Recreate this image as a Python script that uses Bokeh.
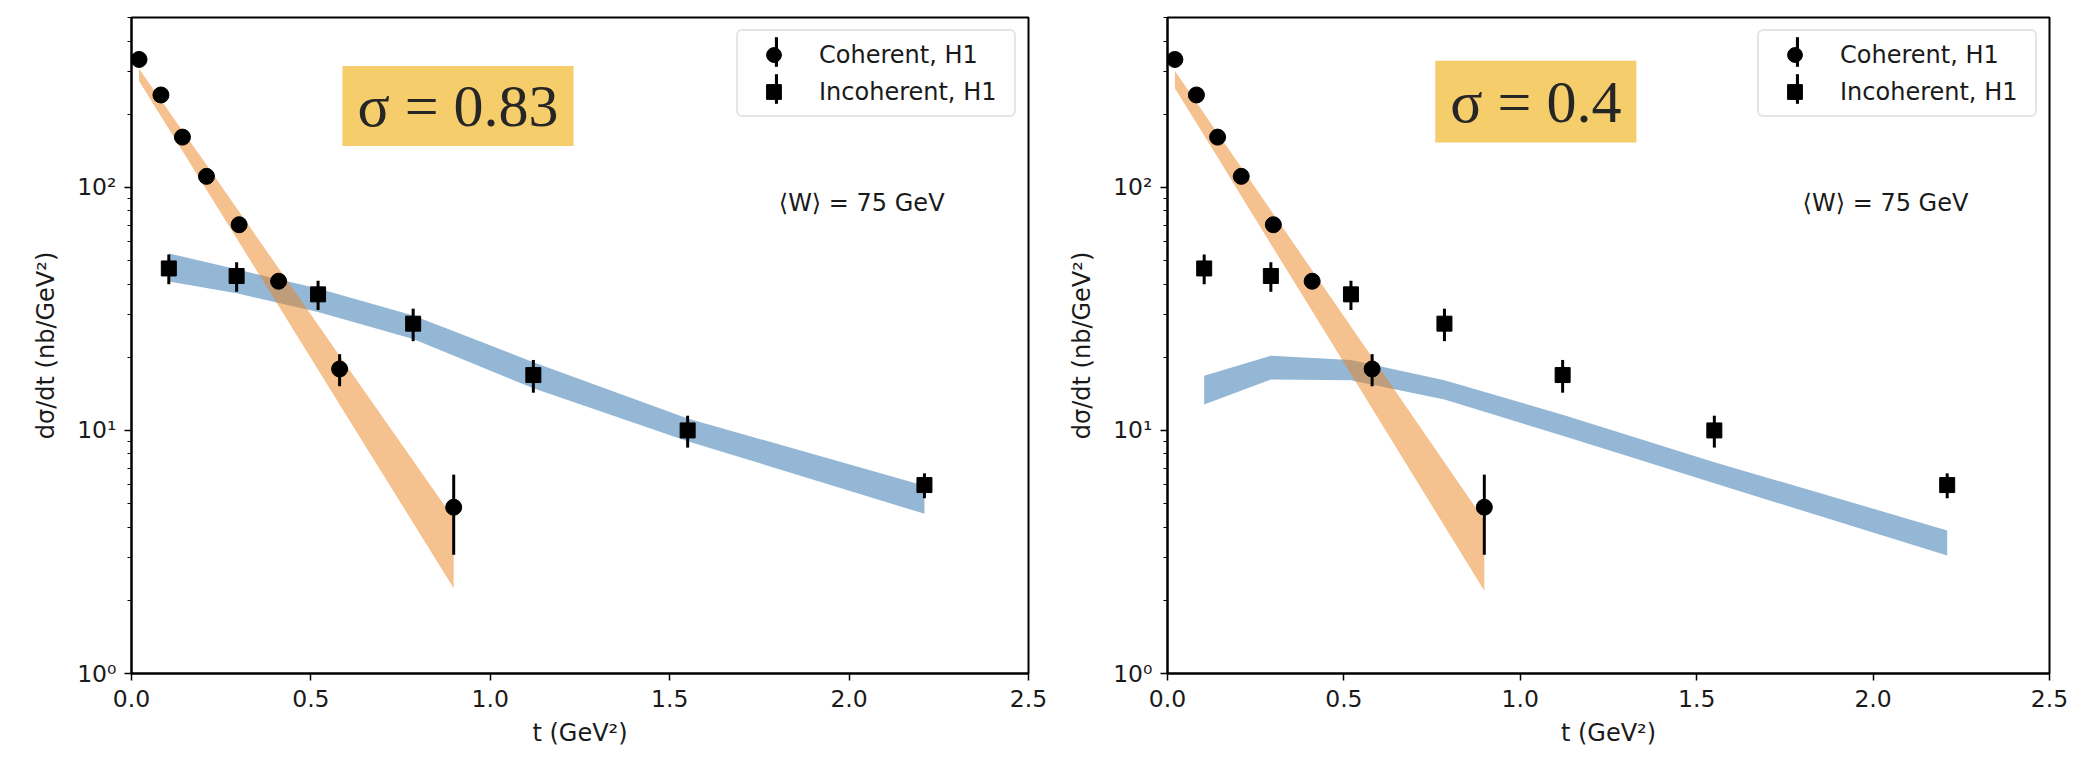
import math
from bokeh.plotting import figure
from bokeh.layouts import row
from bokeh.models import (LogTicker, FixedTicker, NumeralTickFormatter, CustomJSTickFormatter,
                          Legend, LegendItem, BoxAnnotation, Label, Range1d, ColumnDataSource)
from bokeh.embed import file_html
from bokeh.resources import INLINE

# ---------------- data ----------------
coh_t = [0.021, 0.082, 0.142, 0.209, 0.300, 0.410, 0.580, 0.898]
coh_y = [336, 240, 161, 111, 70.2, 41.1, 17.9, 4.83]
coh_err = [8, 6, 4, 3, 2, 1.5, 2.7, 1.75]

inc_t = [0.104, 0.293, 0.520, 0.785, 1.120, 1.550, 2.210]
inc_y = [46.4, 43.2, 36.3, 27.5, 16.9, 10.0, 5.96]
inc_err = [6.5, 6.0, 5.0, 4.2, 2.6, 1.5, 0.7]

# model bands, sigma = 0.83
coh_hi_083 = [308, 229, 171, 124, 79.4, 46.5, 20.3, 4.34]
coh_lo_083 = [274, 196, 141, 97.8, 59.4, 32.5, 12.8, 2.24]
inc_hi_083 = [53.5, 46.0, 38.4, 29.7, 19.1, 11.2, 5.92]
inc_lo_083 = [41.0, 36.7, 30.7, 23.8, 14.9, 9.03, 4.54]

# model bands, sigma = 0.4
coh_hi_04 = [301, 224, 167, 121, 77.8, 45.6, 20.0, 4.27]
coh_lo_04 = [256, 184, 133, 92.2, 56.2, 31.0, 12.3, 2.19]
inc_hi_04 = [16.8, 20.3, 19.5, 16.1, 11.6, 7.4, 3.88]
inc_lo_04 = [12.8, 16.2, 16.1, 13.4, 9.5, 6.06, 3.06]

x_ticks = [0.0, 0.5, 1.0, 1.5, 2.0, 2.5]
sigma_labels = ["σ = 0.83", "σ = 0.4"]
w_label = "⟨W⟩ = 75 GeV"
legend_labels = ["Coherent, H1", "Incoherent, H1"]

BLUE = "#296FAD"
ORANGE = "#EB831D"
SANS = "DejaVu Sans"


def panel(width, borders, sigma_text, coh_hi, coh_lo, inc_hi, inc_lo, box, w_pos):
    bl, br, bt, bb = borders
    p = figure(width=width, height=759, x_range=Range1d(0, 2.5), y_range=Range1d(1, 500),
               y_axis_type="log", output_backend="svg", toolbar_location=None,
               min_border_left=bl, min_border_right=br, min_border_top=bt, min_border_bottom=bb,
               background_fill_color="white", border_fill_color="white")
    p.grid.visible = False
    p.outline_line_color = "black"
    p.outline_line_width = 2
    p.outline_line_alpha = 1

    for ax in (p.xaxis, p.yaxis):
        ax.axis_line_color = "black"
        ax.axis_line_width = 2
        ax.major_tick_line_color = "black"
        ax.major_tick_line_width = 1.5
        ax.major_tick_out = 7
        ax.major_tick_in = 0
        ax.major_label_text_font = SANS
        ax.major_label_text_font_size = "23.5px"
        ax.major_label_text_color = "#1a1a1a"
        ax.axis_label_text_font = SANS
        ax.axis_label_text_font_size = "24px"
        ax.axis_label_text_font_style = "normal"
        ax.axis_label_text_color = "#1a1a1a"

    p.xaxis.ticker = FixedTicker(ticks=x_ticks)
    p.xaxis.formatter = NumeralTickFormatter(format="0.0")
    p.xaxis.minor_tick_line_color = None
    p.xaxis.major_label_standoff = 9
    p.xaxis.axis_label_standoff = 9
    p.xaxis.axis_label = "t (GeV²)"

    p.yaxis.ticker = LogTicker(mantissas=[1], num_minor_ticks=10)
    p.yaxis.formatter = CustomJSTickFormatter(code="""
        const sup = {"0": "\u2070", "1": "\u00b9", "2": "\u00b2", "3": "\u00b3"};
        const e = Math.round(Math.log10(tick));
        return "10" + sup[String(e)];
    """)
    p.yaxis.minor_tick_line_color = "black"
    p.yaxis.minor_tick_line_width = 1.2
    p.yaxis.minor_tick_out = 4
    p.yaxis.minor_tick_in = 0
    p.yaxis.major_label_standoff = 8
    p.yaxis.axis_label_standoff = 14
    p.yaxis.axis_label = "dσ/dt (nb/GeV²)"

    # bands
    inc_src = ColumnDataSource(dict(t=inc_t, hi=inc_hi, lo=inc_lo))
    coh_src = ColumnDataSource(dict(t=coh_t, hi=coh_hi, lo=coh_lo))
    p.varea(x="t", y1="lo", y2="hi", source=inc_src, fill_color=BLUE, fill_alpha=0.5)
    p.varea(x="t", y1="lo", y2="hi", source=coh_src, fill_color=ORANGE, fill_alpha=0.5)

    # data with error bars
    cd = ColumnDataSource(dict(t=coh_t, y=coh_y,
                               lo=[y - e for y, e in zip(coh_y, coh_err)],
                               hi=[y + e for y, e in zip(coh_y, coh_err)]))
    idt = ColumnDataSource(dict(t=inc_t, y=inc_y,
                                lo=[y - e for y, e in zip(inc_y, inc_err)],
                                hi=[y + e for y, e in zip(inc_y, inc_err)]))
    p.segment(x0="t", y0="lo", x1="t", y1="hi", source=cd, line_color="black", line_width=3)
    p.segment(x0="t", y0="lo", x1="t", y1="hi", source=idt, line_color="black", line_width=3)
    circ = p.scatter(x="t", y="y", source=cd, marker="circle", size=16,
                     fill_color="black", line_color="black")
    sq = p.scatter(x="t", y="y", source=idt, marker="square", size=15,
                   fill_color="black", line_color="black")

    common = dict(location="top_right", spacing=0, glyph_height=37, label_height=37,
                  label_text_font=SANS, label_text_font_size="24px",
                  label_text_color="#1a1a1a")

    # legend: markers + labels
    legend = Legend(items=[LegendItem(label=legend_labels[0], renderers=[circ]),
                           LegendItem(label=legend_labels[1], renderers=[sq])],
                    margin=12, padding=5, glyph_width=61, label_standoff=15, label_width=190,
                    border_line_color="#cccccc", border_line_width=2, border_radius=6,
                    background_fill_alpha=0.8, **common)
    p.add_layout(legend)

    # legend overlay: vertical error-bar strokes through the legend markers
    # (hidden renderers reusing the data; only their legend glyph is drawn)
    bar1 = p.vbar(x="t", top="hi", bottom="lo", source=cd, width=0.001,
                  fill_color="black", line_color=None, visible=False)
    bar2 = p.vbar(x="t", top="hi", bottom="lo", source=idt, width=0.001,
                  fill_color="black", line_color=None, visible=False)
    bars = Legend(items=[LegendItem(label=" ", renderers=[bar1]),
                         LegendItem(label=" ", renderers=[bar2])],
                  margin=16, padding=10, glyph_width=4, label_standoff=15, label_width=219,
                  border_line_color=None, background_fill_alpha=0, **common)
    p.add_layout(bars)

    # annotations
    left, right, bottom, top = box
    p.add_layout(BoxAnnotation(left=left, right=right, bottom=bottom, top=top,
                               fill_color="#F5CD6B", fill_alpha=1, line_color=None))
    cx = (left + right) / 2
    cy = math.sqrt(bottom * top)
    p.add_layout(Label(x=cx, y=cy, text=sigma_text, text_font="Liberation Serif",
                       text_font_size="60px", text_align="center", text_baseline="middle",
                       text_color="#262626"))
    p.add_layout(Label(x=w_pos[0], y=w_pos[1], text=w_label, text_font=SANS,
                       text_font_size="24px", text_align="center", text_baseline="middle",
                       text_color="#1a1a1a"))
    return p


p1 = panel(1060, (131, 32, 11, 82), sigma_labels[0], coh_hi_083, coh_lo_083,
           inc_hi_083, inc_lo_083, (0.588, 1.232, 148, 316), (2.035, 86.4))
p2 = panel(1020, (107, 31, 17, 86), sigma_labels[1], coh_hi_04, coh_lo_04,
           inc_hi_04, inc_lo_04, (0.759, 1.329, 153, 332), (2.035, 86.4))

layout = row(p1, p2)
open("out.html", "w").write(file_html(layout, INLINE))
